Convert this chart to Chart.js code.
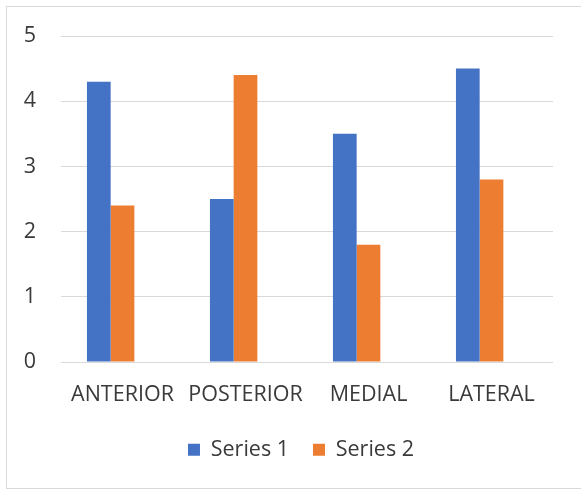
<!DOCTYPE html>
<html>
<head>
<meta charset="utf-8">
<script src="https://cdn.jsdelivr.net/npm/chart.js@4/dist/chart.umd.min.js"></script>
<style>
  html, body { margin: 0; padding: 0; background: #fff; overflow: hidden; }
  #frame {
    position: absolute; left: 6px; top: 6px;
    width: 588px; height: 483px;
    border: 1px solid #d9d9d9; box-sizing: border-box; background: #fff;
  }
  #frame canvas { display: block; }
</style>
</head>
<body>
<div id="frame"><canvas id="chart" width="586" height="481"></canvas></div>
<script>
// Categories and series values
const categories = ['ANTERIOR', 'POSTERIOR', 'MEDIAL', 'LATERAL'];
const series1 = [4.3, 2.5, 3.5, 4.5];
const series2 = [2.4, 4.4, 1.8, 2.8];
// Third series of the workbook has no values but still takes a slot in each group
const series3 = [];
const seriesNames = ['Series 1', 'Series 2', 'Series 3'];
const yTicks = [0, 1, 2, 3, 4, 5];

const FONT = { family: "'Open Sans', 'Noto Sans', sans-serif", size: 21.5 };
const TEXT = '#3a3a3a';
const GRID = '#d9d9d9';
const GAP_WIDTH = 2.19; // space between groups, in bar widths

// Nudge the legend row a little to the left of the plot centre
const legendNudge = {
  id: 'legendNudge',
  afterLayout(chart) {
    const lg = chart.legend;
    if (lg) { lg.left -= 6; lg.right -= 6; }
  }
};

new Chart(document.getElementById('chart'), {
  type: 'bar',
  data: {
    labels: categories,
    datasets: [
      { label: seriesNames[0], data: series1, backgroundColor: '#4472C4' },
      { label: seriesNames[1], data: series2, backgroundColor: '#ED7D31' },
      { label: seriesNames[2], data: series3, backgroundColor: '#A5A5A5' }
    ]
  },
  plugins: [legendNudge],
  options: {
    responsive: false,
    animation: false,
    devicePixelRatio: 1,
    categoryPercentage: 3 / (3 + GAP_WIDTH),
    barPercentage: 1,
    layout: { padding: { top: 0, right: 40, bottom: 17.5, left: 0 } },
    plugins: {
      tooltip: { enabled: false },
      legend: {
        position: 'bottom',
        fullSize: false,
        labels: {
          color: TEXT,
          font: FONT,
          boxWidth: 12,
          boxHeight: 12,
          padding: 24,
          filter: (item) => item.datasetIndex < 2
        }
      }
    },
    scales: {
      x: {
        grid: { display: false, drawTicks: false },
        border: { display: false },
        ticks: { color: TEXT, font: FONT, padding: 20, maxRotation: 0, autoSkip: false },
        afterFit: (s) => { s.height = 53; }
      },
      y: {
        min: yTicks[0],
        max: yTicks[yTicks.length - 1],
        grid: { color: GRID, lineWidth: 1, drawTicks: false },
        border: { display: false },
        afterBuildTicks: (s) => { s.ticks = yTicks.map(v => ({ value: v })); },
        ticks: { color: TEXT, font: FONT, padding: 25 },
        afterFit: (s) => { s.width = 54; s.paddingTop = 29; }
      }
    }
  }
});
</script>
</body>
</html>
